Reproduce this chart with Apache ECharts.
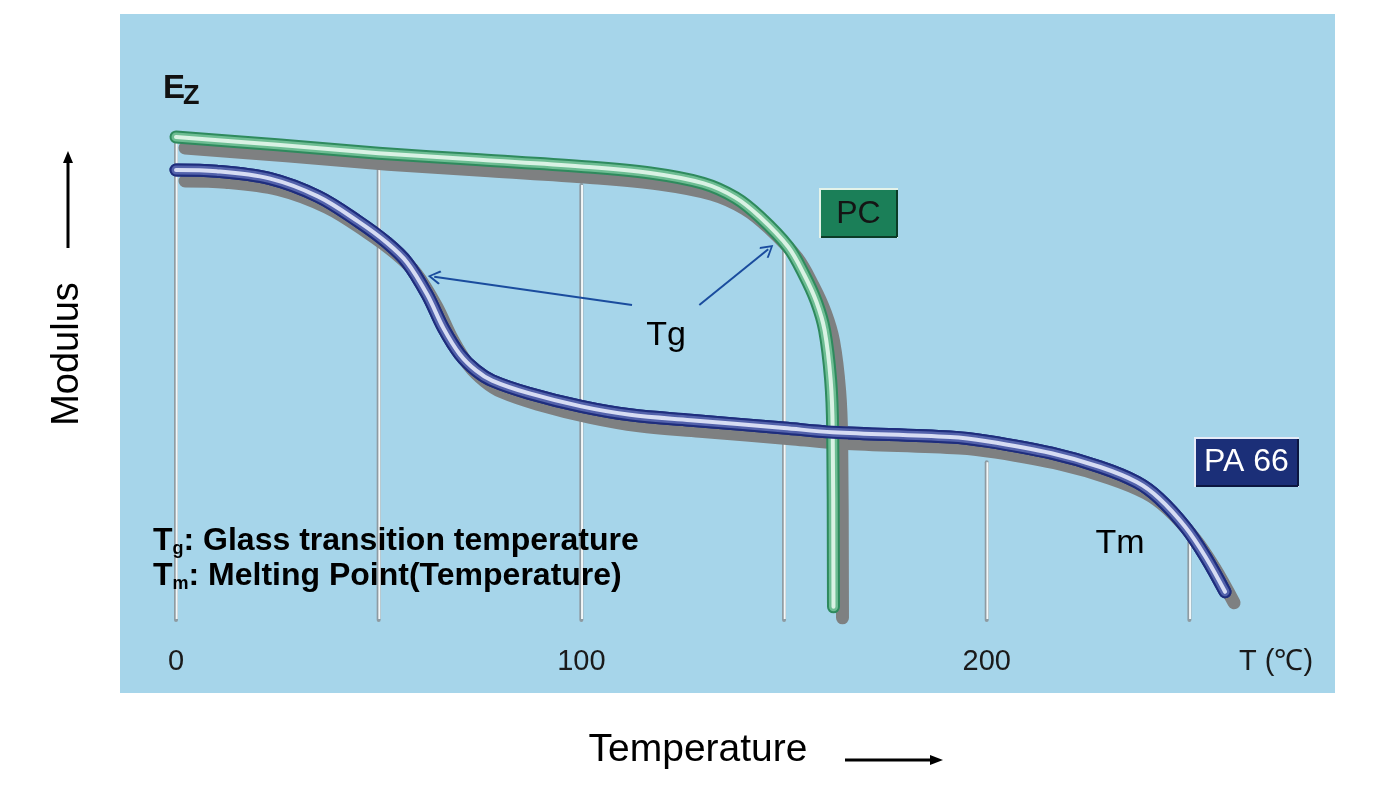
<!DOCTYPE html>
<html>
<head>
<meta charset="utf-8">
<title>Modulus vs Temperature</title>
<script src="https://cdn.jsdelivr.net/npm/echarts@6/dist/echarts.min.js"></script>
<style>
  html, body { margin: 0; padding: 0; background: #ffffff; }
  #chart { width: 1379px; height: 786px; }
</style>
</head>
<body>
<div id="chart"></div>
<script>
// temperature (°C) / relative modulus
const pcTemp   = [0, 25, 50, 75, 100, 117, 130, 138, 144, 151, 155, 158, 160, 161.5, 162, 162.2];
const pcMod    = [80.5, 79.2, 77.8, 76.7, 75.6, 74.5, 72.8, 70.4, 67.2, 62.2, 57.5, 53, 48.3, 40, 31.7, 2.2];
const paTemp   = [0, 10, 23, 35, 45, 52, 57, 62, 66, 70, 74, 78, 87, 100, 112, 127, 150, 162, 191, 200, 216, 228, 237, 242.5, 249, 254, 258.8];
const paMod    = [75, 74.8, 73.6, 70.6, 66.4, 62.9, 59.6, 54.2, 48.6, 44.3, 41.6, 39.9, 37.8, 35.6, 34.2, 33.3, 32, 31.3, 30.5, 29.8, 27.8, 25.5, 23, 20.3, 15.5, 10.5, 4.7];
// vertical guide posts and the height where they meet the curve
const postTemp = [0, 50, 100, 150, 200, 250];
const postTop  = [80.5, 75, 72.5, 61.7, 26.3, 13];
// Tg arrows: [tail, tip]
const tgPA = [[112.5, 52.5], [63.7, 57.2]];
const tgPC = [[129.1, 52.5], [146.1, 61.8]];

const FONT = 'Liberation Sans, Arial, sans-serif';
const zip = (a, b) => a.map((v, i) => [v, b[i]]);
const pcData = zip(pcTemp, pcMod);
const paData = zip(paTemp, paMod);
const postData = zip(postTemp, postTop);

const SHADOW = { shadowColor: '#7e8081', shadowOffsetX: 9, shadowOffsetY: 11, shadowBlur: 0 };

function tube(name, data, color, width, z, extra) {
  return {
    name: name,
    type: 'line',
    data: data,
    z: z,
    smooth: 0.35,
    showSymbol: false,
    silent: true,
    lineStyle: Object.assign({ color: color, width: width, cap: 'round', join: 'round' }, extra || {})
  };
}

const chart = echarts.init(document.getElementById('chart'));

const arrowHead = 'path://M7,0 L14,11 L12.6,12.4 L7,3.2 L1.4,12.4 L0,11 Z';

const option = {
  animation: false,
  grid: { left: 176, right: 68, top: 20, bottom: 166 },
  xAxis: {
    type: 'value', min: 0, max: 280, interval: 100,
    axisLine: { show: false }, axisTick: { show: false }, splitLine: { show: false },
    axisLabel: {
      margin: 27, fontSize: 29, color: '#1a1a1a', fontFamily: FONT,
      formatter: v => (v % 100 === 0 ? String(v) : '')
    }
  },
  yAxis: { type: 'value', min: 0, max: 100, show: false },
  graphic: [
    { type: 'rect', z: -10, silent: true, shape: { x: 120, y: 14, width: 1215, height: 679 }, style: { fill: '#a6d5ea' } },
    // E_z
    { type: 'text', z: 50, left: 163, top: 72, style: { text: 'E', font: 'bold 33px ' + FONT, fill: '#111' } },
    { type: 'text', z: 50, left: 183, top: 83, style: { text: 'Z', font: 'bold 27px ' + FONT, fill: '#111' } },
    // Modulus label and arrow
    { type: 'text', z: 50, x: 68, y: 354, rotation: Math.PI / 2,
      style: { text: 'Modulus', font: '38px ' + FONT, fill: '#000', align: 'center', verticalAlign: 'middle' } },
    { type: 'line', z: 50, shape: { x1: 68, y1: 248, x2: 68, y2: 160 }, style: { stroke: '#000', lineWidth: 3 } },
    { type: 'polygon', z: 50, shape: { points: [[68, 151], [63, 163], [73, 163]] }, style: { fill: '#000' } },
    // Temperature label and arrow
    { type: 'text', z: 50, x: 698, y: 750,
      style: { text: 'Temperature', font: '39px ' + FONT, fill: '#000', align: 'center', verticalAlign: 'middle' } },
    { type: 'line', z: 50, shape: { x1: 845, y1: 760, x2: 932, y2: 760 }, style: { stroke: '#000', lineWidth: 3 } },
    { type: 'polygon', z: 50, shape: { points: [[943, 760], [930, 755], [930, 765]] }, style: { fill: '#000' } },
    // axis unit
    { type: 'text', z: 50, x: 1276, y: 662,
      style: { text: 'T (℃)', font: '29px ' + FONT, fill: '#1a1a1a', align: 'center', verticalAlign: 'middle' } },
    // annotations
    { type: 'text', z: 50, x: 666, y: 336,
      style: { text: 'Tg', font: '34px ' + FONT, fill: '#000', align: 'center', verticalAlign: 'middle' } },
    { type: 'text', z: 50, x: 1120, y: 544,
      style: { text: 'Tm', font: '34px ' + FONT, fill: '#000', align: 'center', verticalAlign: 'middle' } },
    { type: 'group', z: 50, children: [
      { type: 'rect', shape: { x: 820, y: 189, width: 77, height: 48 }, style: { fill: '#1b7f58', stroke: '#e4f3ea', lineWidth: 2 } },
      { type: 'line', shape: { x1: 821, y1: 237, x2: 897, y2: 237 }, style: { stroke: '#0c3b27', lineWidth: 2 } },
      { type: 'line', shape: { x1: 897, y1: 190, x2: 897, y2: 237 }, style: { stroke: '#0c3b27', lineWidth: 2 } },
      { type: 'text', x: 858.5, y: 214, style: { text: 'PC', font: '32px ' + FONT, fill: '#141414', align: 'center', verticalAlign: 'middle' } }
    ] },
    { type: 'group', z: 50, children: [
      { type: 'rect', shape: { x: 1195, y: 438, width: 103, height: 48 }, style: { fill: '#1b2f78', stroke: '#e6ebf7', lineWidth: 2 } },
      { type: 'line', shape: { x1: 1196, y1: 486, x2: 1298, y2: 486 }, style: { stroke: '#0b1640', lineWidth: 2 } },
      { type: 'line', shape: { x1: 1298, y1: 439, x2: 1298, y2: 486 }, style: { stroke: '#0b1640', lineWidth: 2 } },
      { type: 'text', x: 1246.5, y: 462, style: { text: 'PA 66', font: '32px ' + FONT, fill: '#ffffff', align: 'center', verticalAlign: 'middle' } }
    ] },
    // legend of symbols
    { type: 'text', z: 50, left: 153, top: 525, style: {
      text: '{b|T}{s|g}{b|: Glass transition temperature}\n{b|T}{s|m}{b|: Melting Point(Temperature)}',
      rich: {
        b: { font: 'bold 32px ' + FONT, fill: '#000', lineHeight: 35 },
        s: { font: 'bold 18px ' + FONT, fill: '#000', lineHeight: 35, verticalAlign: 'bottom' }
      }
    } }
  ],
  series: [
    {
      name: 'posts',
      type: 'custom',
      z: 1,
      silent: true,
      data: postData,
      renderItem: function (params, api) {
        const b = api.coord([api.value(0), 0]);
        const t = api.coord([api.value(0), api.value(1)]);
        return {
          type: 'group',
          children: [
            { type: 'line', shape: { x1: b[0], y1: b[1], x2: t[0], y2: t[1] }, style: { stroke: '#8e9ba2', lineWidth: 4, lineCap: 'round' } },
            { type: 'line', shape: { x1: b[0] + 0.7, y1: b[1] - 1, x2: t[0] + 0.7, y2: t[1] }, style: { stroke: '#f3f7f8', lineWidth: 2 } }
          ]
        };
      }
    },
    tube('PA 66 shadow', paData, '#1e2d7d', 13, 2, SHADOW),
    tube('PC', pcData, '#2e8a5d', 13, 3, SHADOW),
    tube('PC mid', pcData, '#6dbd93', 9, 3),
    tube('PC hi', pcData, '#d9f2e4', 4, 3),
    tube('PA 66', paData, '#1e2d7d', 13, 4),
    tube('PA 66 mid', paData, '#5362ab', 9, 4),
    Object.assign(tube('PA 66 hi', paData, '#d6dcf3', 4, 4), {
      markLine: {
        silent: true,
        symbol: ['none', arrowHead],
        symbolSize: [14, 13],
        label: { show: false },
        lineStyle: { color: '#1a4c9e', width: 2, type: 'solid' },
        emphasis: { disabled: true },
        data: [
          [{ coord: tgPA[0] }, { coord: tgPA[1] }],
          [{ coord: tgPC[0] }, { coord: tgPC[1] }]
        ]
      }
    })
  ]
};

chart.setOption(option);
</script>
</body>
</html>
